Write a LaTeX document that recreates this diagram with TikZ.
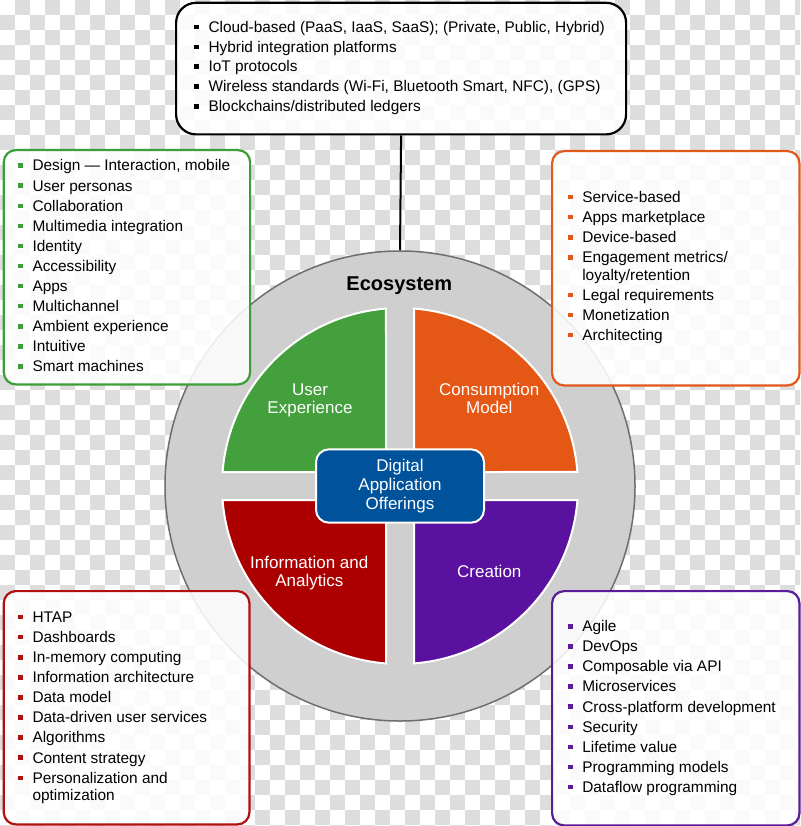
\documentclass[tikz,border=0pt]{standalone}
\usepackage{fontspec}
\setmainfont{Liberation Sans}
\definecolor{chk}{RGB}{221,221,221}
\definecolor{circfill}{RGB}{207,207,207}
\definecolor{circline}{RGB}{110,110,110}
\definecolor{qgreen}{RGB}{67,160,61}
\definecolor{qorange}{RGB}{229,87,20}
\definecolor{qred}{RGB}{172,0,0}
\definecolor{qpurple}{RGB}{90,17,160}
\definecolor{cblue}{RGB}{0,83,155}
\definecolor{bgreen}{RGB}{60,158,56}
\definecolor{borange}{RGB}{226,88,26}
\definecolor{bred}{RGB}{176,16,16}
\definecolor{bpurple}{RGB}{90,28,152}
\tikzset{
  infobox/.style={rectangle, rounded corners=12pt, line width=2.2pt, fill=white,
    fill opacity=0.87, draw opacity=1, text opacity=1, inner sep=0pt, anchor=north west},
  bul/.style={rectangle, inner sep=0pt, minimum size=4.6pt},
  itemtxt/.style={anchor=base west, inner sep=0pt, font=\fontsize{15.4}{17.5}\selectfont, text=black},
  quadlbl/.style={text=white, font=\fontsize{17}{17.6}\selectfont, align=center, inner sep=0pt},
  quad/.style={draw=white, line width=2pt},
}
\newcommand\bitem[5]{%
  \node[bul,fill=#2] (#1b) at (#3,#4-5.3) {};
  \node[itemtxt] (#1) at (#3+11.6,#4) {#5};}
\newcommand\bcont[4]{%
  \node[itemtxt] (#1) at (#2+11.6,#3) {#4};}
\begin{document}
\begin{tikzpicture}[x=1pt,y=-1pt]
\useasboundingbox (0,0) rectangle (800,826);
% background checkerboard
\begin{scope}
\clip (0,0) rectangle (800,826);
\fill[white] (0,0) rectangle (800,826);
\foreach \yy in {0,30,...,810} { \foreach \xx in {15,45,...,795} {\fill[chk] (\xx,\yy) rectangle ++(15,15);} }
\foreach \yy in {15,45,...,825} { \foreach \xx in {0,30,...,780} {\fill[chk] (\xx,\yy) rectangle ++(15,15);} }
\end{scope}
% ecosystem circle
\node[circle, fill=circfill, draw=circline, line width=1.5pt, minimum size=470pt, inner sep=0pt] (eco) at (400,486) {};
% quadrants
\fill[qgreen, quad] (386,472) -- (222.55,472) arc[start angle=184.51, end angle=265.49, radius=178] -- cycle;
\fill[qorange, quad] (414,472) -- (414,308.55) arc[start angle=274.51, end angle=355.49, radius=178] -- cycle;
\fill[qred, quad] (386,500) -- (386,663.45) arc[start angle=94.51, end angle=175.49, radius=178] -- cycle;
\fill[qpurple, quad] (414,500) -- (577.45,500) arc[start angle=4.51, end angle=85.49, radius=178] -- cycle;
\node[quadlbl] (ux) at (310,400.2) {User\\Experience};
\node[quadlbl] (cm) at (489.3,398.5) {Consumption\\Model};
\node[quadlbl] (ia) at (309.3,572.8) {Information and\\Analytics};
\node[quadlbl, anchor=base] (cr) at (489.3,577.7) {Creation};
\node[rectangle, rounded corners=13pt, fill=cblue, draw=white, line width=2pt,
  minimum width=168pt, minimum height=73.4pt, inner sep=0pt, text=white, align=center,
  font=\fontsize{17}{19.2}\selectfont] (dao) at (400,486) {Digital\\Application\\Offerings};
\node[font=\bfseries\fontsize{20}{24}\selectfont, anchor=base, inner sep=0pt] (ecolbl) at (399.3,290) {Ecosystem};
% boxes
\node[infobox, draw=black, rounded corners=20pt, minimum width=450pt, minimum height=131.6pt] (topbox) at (175,1.7) {};
\node[infobox, draw=bgreen, minimum width=246.3pt, minimum height=234.3pt] (gbox) at (2.7,149) {};
\node[infobox, draw=borange, minimum width=247.3pt, minimum height=234.3pt] (obox) at (551,150) {};
\node[infobox, draw=bred, minimum width=245.6pt, minimum height=233.3pt] (rbox) at (2.7,590) {};
\node[infobox, draw=bpurple, minimum width=247.3pt, minimum height=234.3pt] (pbox) at (551,590) {};
\draw[line width=2pt] (topbox.south) -- (eco.north);
% top items
\bitem{t1}{black}{196.7}{32.3}{Cloud-based (PaaS, IaaS, SaaS); (Private, Public, Hybrid)}
\bitem{t2}{black}{196.7}{52.15}{Hybrid integration platforms}
\bitem{t3}{black}{196.7}{72}{IoT protocols}
\bitem{t4}{black}{196.7}{91.85}{Wireless standards (Wi-Fi, Bluetooth Smart, NFC), (GPS)}
\bitem{t5}{black}{196.7}{111.7}{Blockchains/distributed ledgers}
% green items
\bitem{g1}{bgreen}{20.7}{171}{Design — Interaction, mobile}
\bitem{g2}{bgreen}{20.7}{191.07}{User personas}
\bitem{g3}{bgreen}{20.7}{211.14}{Collaboration}
\bitem{g4}{bgreen}{20.7}{231.21}{Multimedia integration}
\bitem{g5}{bgreen}{20.7}{251.28}{Identity}
\bitem{g6}{bgreen}{20.7}{271.35}{Accessibility}
\bitem{g7}{bgreen}{20.7}{291.42}{Apps}
\bitem{g8}{bgreen}{20.7}{311.49}{Multichannel}
\bitem{g9}{bgreen}{20.7}{331.56}{Ambient experience}
\bitem{g10}{bgreen}{20.7}{351.63}{Intuitive}
\bitem{g11}{bgreen}{20.7}{371.7}{Smart machines}
% orange items
\bitem{o1}{borange}{570.5}{202.3}{Service-based}
\bitem{o2}{borange}{570.5}{222.4}{Apps marketplace}
\bitem{o3}{borange}{570.5}{242.5}{Device-based}
\bitem{o4}{borange}{570.5}{262.6}{Engagement metrics/}
\bcont{o4c}{570.5}{280.1}{loyalty/retention}
\bitem{o5}{borange}{570.5}{300.2}{Legal requirements}
\bitem{o6}{borange}{570.5}{320.3}{Monetization}
\bitem{o7}{borange}{570.5}{340.4}{Architecting}
% red items
\bitem{r1}{bred}{20.7}{622.3}{HTAP}
\bitem{r2}{bred}{20.7}{642.4}{Dashboards}
\bitem{r3}{bred}{20.7}{662.5}{In-memory computing}
\bitem{r4}{bred}{20.7}{682.6}{Information architecture}
\bitem{r5}{bred}{20.7}{702.7}{Data model}
\bitem{r6}{bred}{20.7}{722.8}{Data-driven user services}
\bitem{r7}{bred}{20.7}{742.9}{Algorithms}
\bitem{r8}{bred}{20.7}{763}{Content strategy}
\bitem{r9}{bred}{20.7}{783.1}{Personalization and}
\bcont{r9c}{20.7}{800.6}{optimization}
% purple items
\bitem{p1}{bpurple}{570.5}{631.7}{Agile}
\bitem{p2}{bpurple}{570.5}{651.8}{DevOps}
\bitem{p3}{bpurple}{570.5}{671.9}{Composable via API}
\bitem{p4}{bpurple}{570.5}{691.9}{Microservices}
\bitem{p5}{bpurple}{570.5}{712}{Cross-platform development}
\bitem{p6}{bpurple}{570.5}{732.1}{Security}
\bitem{p7}{bpurple}{570.5}{752.2}{Lifetime value}
\bitem{p8}{bpurple}{570.5}{772.3}{Programming models}
\bitem{p9}{bpurple}{570.5}{792.3}{Dataflow programming}
\end{tikzpicture}
\end{document}
